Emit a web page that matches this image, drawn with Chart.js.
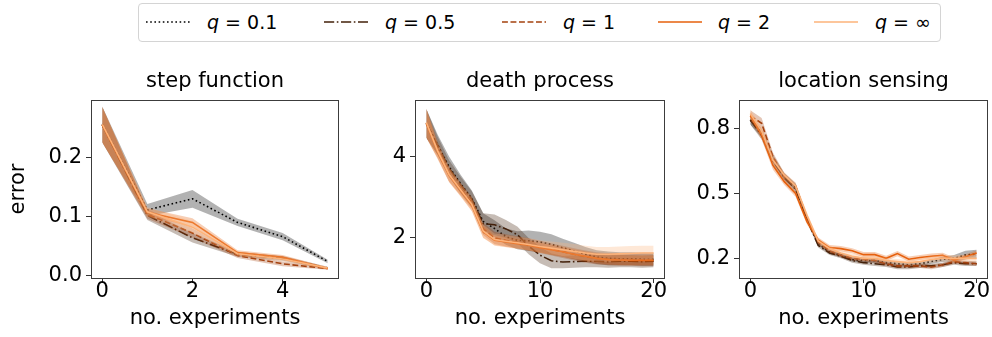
<!DOCTYPE html>
<html>
<head>
<meta charset="utf-8">
<script src="https://cdn.jsdelivr.net/npm/chart.js@4.4.1/dist/chart.umd.min.js"></script>
<style>
  body { margin: 0; width: 992px; height: 337px; background: #fff; position: relative; overflow: hidden; font-family: "DejaVu Sans", sans-serif; }
  canvas { position: absolute; top: 60px; }
  #legend { position: absolute; left: 138px; top: 3px; width: 803px; height: 39px; border: 1px solid #d4d4d4; border-radius: 4px; box-sizing: border-box; }
  #legend svg { position: absolute; top: 15px; }
  #legend span { position: absolute; top: 0; line-height: 36px; font-size: 19px; color: #000; white-space: nowrap; font-family: "DejaVu Sans", sans-serif; }
</style>
</head>
<body>
<div id="legend"></div>
<canvas id="c1" width="345" height="277" style="left:0px"></canvas>
<canvas id="c2" width="325" height="277" style="left:345px"></canvas>
<canvas id="c3" width="322" height="277" style="left:670px"></canvas>
<script>
// series labels / styles
const qLabels = ['0.1', '0.5', '1', '2', '∞'];
const qColors = ['#000000', '#43200a', '#a4410e', '#e6600d', '#fdb37a'];
const qBands = ['rgba(0,0,0,0.3)', 'rgba(67,32,10,0.3)', 'rgba(164,65,14,0.3)', 'rgba(230,96,13,0.3)', 'rgba(253,179,122,0.3)'];
const qDashes = [[1.6, 2.6], [10.2, 2.6, 1.6, 2.6], [5.9, 2.6], [], []];

// step function
const stepX = [0, 1, 2, 3, 4, 5];
const stepQ01 = [0.256, 0.111, 0.130, 0.090, 0.066, 0.024];
const stepQ05 = [0.255, 0.102, 0.064, 0.036, 0.029, 0.013];
const stepQ1 = [0.255, 0.104, 0.072, 0.034, 0.020, 0.012];
const stepQ2 = [0.255, 0.107, 0.090, 0.039, 0.031, 0.012];
const stepQinf = [0.256, 0.108, 0.082, 0.037, 0.028, 0.013];
const stepQ01Sd = [0.030, 0.010, 0.015, 0.006, 0.006, 0.003];
const stepQ05Sd = [0.030, 0.008, 0.008, 0.004, 0.004, 0.002];
const stepQ1Sd = [0.030, 0.008, 0.008, 0.004, 0.004, 0.002];
const stepQ2Sd = [0.030, 0.007, 0.007, 0.004, 0.004, 0.002];
const stepQinfSd = [0.030, 0.008, 0.010, 0.004, 0.004, 0.002];
const stepXTicks = [0, 2, 4];
const stepYTicks = [0, 0.1, 0.2];
const stepYLabels = ['0.0', '0.1', '0.2'];

// death process
const deathX = [0, 1, 2, 3, 4, 5, 6, 7, 8, 9, 10, 11, 12, 13, 14, 15, 16, 17, 18, 19, 20];
const deathQ01 = [4.80, 4.27, 3.74, 3.33, 2.96, 2.40, 2.23, 2.03, 1.94, 1.93, 1.90, 1.84, 1.76, 1.68, 1.60, 1.53, 1.50, 1.49, 1.49, 1.48, 1.48];
const deathQ05 = [4.80, 4.25, 3.70, 3.30, 2.94, 2.35, 2.32, 2.22, 2.08, 1.80, 1.58, 1.44, 1.41, 1.42, 1.43, 1.43, 1.42, 1.43, 1.43, 1.42, 1.43];
const deathQ1 = [4.80, 4.15, 3.56, 3.20, 2.86, 2.22, 2.00, 1.94, 1.89, 1.84, 1.78, 1.72, 1.66, 1.60, 1.54, 1.50, 1.48, 1.47, 1.47, 1.46, 1.46];
const deathQ2 = [4.80, 4.10, 3.53, 3.17, 2.80, 2.15, 1.94, 1.90, 1.86, 1.82, 1.76, 1.71, 1.66, 1.60, 1.55, 1.50, 1.47, 1.46, 1.45, 1.45, 1.45];
const deathQinf = [4.82, 4.12, 3.55, 3.18, 2.82, 2.17, 1.96, 1.92, 1.88, 1.84, 1.79, 1.75, 1.71, 1.67, 1.63, 1.60, 1.60, 1.61, 1.62, 1.63, 1.63];
const deathQ01Sd = [0.35, 0.25, 0.25, 0.22, 0.20, 0.20, 0.20, 0.20, 0.22, 0.25, 0.25, 0.25, 0.22, 0.20, 0.18, 0.17, 0.17, 0.16, 0.16, 0.16, 0.16];
const deathQ05Sd = [0.35, 0.22, 0.20, 0.20, 0.20, 0.25, 0.25, 0.22, 0.20, 0.20, 0.20, 0.18, 0.15, 0.15, 0.15, 0.15, 0.15, 0.15, 0.15, 0.15, 0.15];
const deathQ1Sd = [0.35, 0.20, 0.18, 0.15, 0.15, 0.15, 0.15, 0.15, 0.15, 0.15, 0.15, 0.15, 0.15, 0.15, 0.15, 0.15, 0.15, 0.15, 0.15, 0.15, 0.15];
const deathQ2Sd = [0.35, 0.18, 0.17, 0.15, 0.15, 0.15, 0.12, 0.12, 0.12, 0.12, 0.12, 0.12, 0.12, 0.12, 0.12, 0.12, 0.12, 0.12, 0.12, 0.12, 0.12];
const deathQinfSd = [0.35, 0.18, 0.17, 0.15, 0.15, 0.15, 0.15, 0.15, 0.15, 0.15, 0.15, 0.16, 0.17, 0.18, 0.18, 0.18, 0.18, 0.18, 0.18, 0.18, 0.18];
const deathXTicks = [0, 10, 20];
const deathYTicks = [2, 4];
const deathYLabels = ['2', '4'];

// location sensing
const locX = [0, 1, 2, 3, 4, 5, 6, 7, 8, 9, 10, 11, 12, 13, 14, 15, 16, 17, 18, 19, 20];
const locQ01 = [0.84, 0.78, 0.66, 0.58, 0.53, 0.39, 0.27, 0.23, 0.215, 0.195, 0.19, 0.19, 0.18, 0.175, 0.17, 0.175, 0.185, 0.195, 0.20, 0.215, 0.22];
const locQ05 = [0.84, 0.77, 0.65, 0.575, 0.52, 0.38, 0.26, 0.225, 0.21, 0.19, 0.18, 0.175, 0.17, 0.16, 0.16, 0.165, 0.165, 0.17, 0.18, 0.175, 0.175];
const locQ1 = [0.86, 0.825, 0.67, 0.58, 0.535, 0.39, 0.275, 0.235, 0.215, 0.20, 0.195, 0.19, 0.175, 0.165, 0.165, 0.165, 0.16, 0.17, 0.185, 0.18, 0.175];
const locQ2 = [0.86, 0.77, 0.63, 0.555, 0.50, 0.37, 0.285, 0.25, 0.245, 0.235, 0.217, 0.217, 0.20, 0.222, 0.196, 0.204, 0.21, 0.214, 0.192, 0.207, 0.225];
const locQinf = [0.87, 0.79, 0.655, 0.585, 0.535, 0.40, 0.28, 0.245, 0.225, 0.21, 0.20, 0.20, 0.19, 0.185, 0.18, 0.185, 0.195, 0.20, 0.20, 0.20, 0.20];
const locQ01Sd = [0.02, 0.02, 0.02, 0.015, 0.015, 0.012, 0.01, 0.01, 0.01, 0.01, 0.01, 0.01, 0.01, 0.01, 0.01, 0.01, 0.01, 0.012, 0.015, 0.02, 0.02];
const locQ05Sd = [0.02, 0.02, 0.02, 0.015, 0.015, 0.012, 0.01, 0.01, 0.01, 0.01, 0.01, 0.01, 0.01, 0.01, 0.01, 0.01, 0.01, 0.01, 0.01, 0.01, 0.01];
const locQ1Sd = [0.025, 0.025, 0.02, 0.015, 0.015, 0.012, 0.01, 0.01, 0.01, 0.01, 0.01, 0.01, 0.01, 0.01, 0.01, 0.01, 0.01, 0.01, 0.01, 0.01, 0.01];
const locQ2Sd = [0.02, 0.02, 0.02, 0.015, 0.015, 0.012, 0.012, 0.012, 0.012, 0.012, 0.012, 0.012, 0.012, 0.012, 0.012, 0.012, 0.012, 0.012, 0.012, 0.012, 0.012];
const locQinfSd = [0.02, 0.02, 0.02, 0.015, 0.015, 0.012, 0.012, 0.012, 0.012, 0.012, 0.012, 0.012, 0.012, 0.012, 0.012, 0.015, 0.015, 0.015, 0.015, 0.015, 0.015];
const locXTicks = [0, 10, 20];
const locYTicks = [0.2, 0.5, 0.8];
const locYLabels = ['0.2', '0.5', '0.8'];

Chart.defaults.font.family = '"DejaVu Sans", sans-serif';
Chart.defaults.font.size = 21;
Chart.defaults.color = '#000';

// axes box like matplotlib spines
const frame = {
    id: 'frame',
    afterDatasetsDraw(chart) {
        const { ctx, chartArea: a } = chart;
        ctx.save();
        ctx.strokeStyle = '#3c3c3c';
        ctx.lineWidth = 1;
        ctx.strokeRect(Math.round(a.left) + 0.5, Math.round(a.top) + 0.5, Math.round(a.right - a.left) - 1, Math.round(a.bottom - a.top));
        ctx.restore();
    }
};

function buildDatasets(xs, means, sds) {
    const datasets = [];
    means.forEach((mean, i) => {
        const base = datasets.length;
        const ord = 100 - i * 3;
        datasets.push({
            data: xs.map((x, k) => ({ x: x, y: mean[k] + sds[i][k] })),
            borderColor: 'rgba(0,0,0,0)', borderWidth: 0, pointRadius: 0,
            backgroundColor: qBands[i], fill: base + 1, order: ord
        });
        datasets.push({
            data: xs.map((x, k) => ({ x: x, y: mean[k] - sds[i][k] })),
            borderColor: 'rgba(0,0,0,0)', borderWidth: 0, pointRadius: 0,
            fill: false, order: ord - 1
        });
        datasets.push({
            data: xs.map((x, k) => ({ x: x, y: mean[k] })),
            borderColor: qColors[i], borderWidth: 1.6, borderDash: qDashes[i],
            pointRadius: 0, fill: false, tension: 0, order: ord - 2
        });
    });
    return datasets;
}

function makePanel(id, p) {
    new Chart(document.getElementById(id), {
        type: 'line',
        data: { datasets: buildDatasets(p.xs, p.means, p.sds) },
        plugins: [frame],
        options: {
            responsive: false,
            animation: false,
            devicePixelRatio: 1,
            layout: { padding: { left: 0, right: p.rightPad, top: 0, bottom: 0 } },
            plugins: {
                legend: { display: false },
                tooltip: { enabled: false },
                // fullSize false -> title centred over the axes, not the canvas
                title: {
                    display: true, text: p.title, fullSize: false,
                    font: { size: 21, weight: 'normal', lineHeight: 1.2 },
                    padding: { top: 9.4, bottom: 5.4 }
                }
            },
            scales: {
                x: {
                    type: 'linear', min: p.xMin, max: p.xMax,
                    afterBuildTicks: s => { s.ticks = p.xTicks.map(v => ({ value: v })); },
                    afterFit: s => { s.height = 59; },
                    grid: { drawOnChartArea: false, tickLength: 5, color: '#333' },
                    border: { display: false },
                    ticks: { padding: -2, maxRotation: 0, autoSkip: false, font: { size: 21, lineHeight: 1 },
                        callback: v => String(v) },
                    title: { display: true, text: 'no. experiments', font: { size: 21, lineHeight: 1.2 }, padding: { top: 0, bottom: 5.7 } }
                },
                y: {
                    type: 'linear', min: p.yMin, max: p.yMax,
                    afterBuildTicks: s => { s.ticks = p.yTicks.map(v => ({ value: v })); },
                    afterFit: s => { s.width = p.yWidth; },
                    grid: { drawOnChartArea: false, tickLength: 5, color: '#333' },
                    border: { display: false },
                    ticks: { padding: 4, autoSkip: false, font: { size: 21 },
                        callback: (v, i) => p.yLabels[i] },
                    title: { display: p.yTitle, text: 'error', font: { size: 21, lineHeight: 1.2 }, padding: { top: 6, bottom: 0 } }
                }
            }
        }
    });
}

makePanel('c1', {
    title: 'step function', xs: stepX,
    means: [stepQ01, stepQ05, stepQ1, stepQ2, stepQinf],
    sds: [stepQ01Sd, stepQ05Sd, stepQ1Sd, stepQ2Sd, stepQinfSd],
    xMin: -0.25, xMax: 5.25, yMin: -0.004, yMax: 0.297,
    xTicks: stepXTicks, yTicks: stepYTicks, yLabels: stepYLabels,
    yWidth: 91, rightPad: 6, yTitle: true
});
makePanel('c2', {
    title: 'death process', xs: deathX,
    means: [deathQ01, deathQ05, deathQ1, deathQ2, deathQinf],
    sds: [deathQ01Sd, deathQ05Sd, deathQ1Sd, deathQ2Sd, deathQinfSd],
    xMin: -1, xMax: 21, yMin: 1.02, yMax: 5.37,
    xTicks: deathXTicks, yTicks: deathYTicks, yLabels: deathYLabels,
    yWidth: 70, rightPad: 5, yTitle: false
});
makePanel('c3', {
    title: 'location sensing', xs: locX,
    means: [locQ01, locQ05, locQ1, locQ2, locQinf],
    sds: [locQ01Sd, locQ05Sd, locQ1Sd, locQ2Sd, locQinfSd],
    xMin: -1, xMax: 21, yMin: 0.109, yMax: 0.933,
    xTicks: locXTicks, yTicks: locYTicks, yLabels: locYLabels,
    yWidth: 69, rightPad: 4, yTitle: false
});

// legend above the panels
const legend = document.getElementById('legend');
const sampleX = [7, 185, 363, 519, 675];
const textX = [68, 246, 424, 579, 736];
qLabels.forEach((lab, i) => {
    const svg = document.createElementNS('http://www.w3.org/2000/svg', 'svg');
    svg.setAttribute('width', '44');
    svg.setAttribute('height', '6');
    svg.style.left = sampleX[i] + 'px';
    const line = document.createElementNS('http://www.w3.org/2000/svg', 'line');
    line.setAttribute('x1', '0'); line.setAttribute('x2', '44');
    line.setAttribute('y1', '3'); line.setAttribute('y2', '3');
    line.setAttribute('stroke', qColors[i]);
    line.setAttribute('stroke-width', '1.6');
    if (qDashes[i].length) line.setAttribute('stroke-dasharray', qDashes[i].join(' '));
    svg.appendChild(line);
    legend.appendChild(svg);
    const span = document.createElement('span');
    span.style.left = textX[i] + 'px';
    span.innerHTML = '<i>q</i> = ' + lab;
    legend.appendChild(span);
});
</script>
</body>
</html>
